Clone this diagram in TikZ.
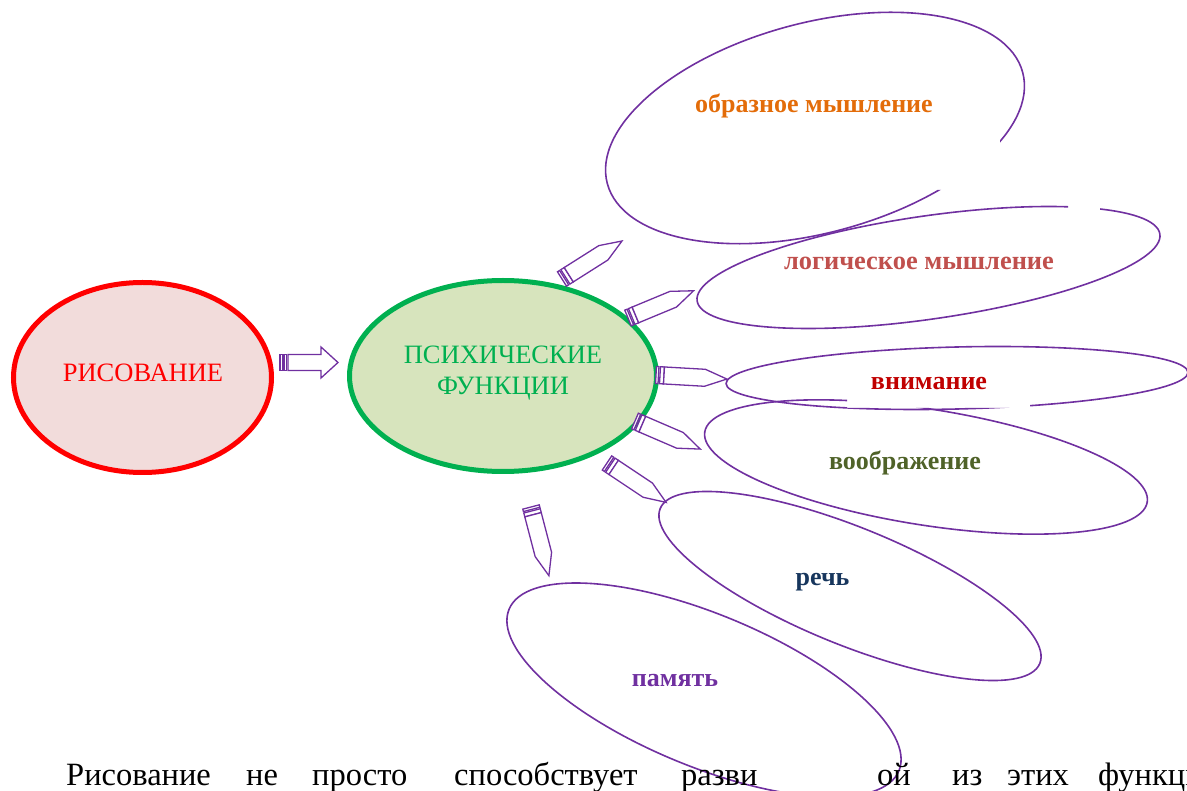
\documentclass[tikz,border=0pt]{standalone}
\usepackage{fontspec}
\setmainfont{Liberation Serif}
\usetikzlibrary{calc,shapes.geometric}
\definecolor{pur}{HTML}{7030A0}
\definecolor{risred}{HTML}{FF0000}
\definecolor{risfill}{HTML}{F2DCDB}
\definecolor{psygreen}{HTML}{00B050}
\definecolor{psyfill}{HTML}{D7E4BD}
\definecolor{corange}{HTML}{E36C09}
\definecolor{clogic}{HTML}{C0504D}
\definecolor{cattn}{HTML}{C00000}
\definecolor{cimag}{HTML}{4F6228}
\definecolor{cspeech}{HTML}{17365D}
\begin{document}
\begin{tikzpicture}[x=1pt,y=-1pt,
  bubble/.style={ellipse, draw=pur, line width=1.6pt, inner sep=0pt},
  bigoval/.style={ellipse, line width=5pt, inner sep=0pt},
  pen/.style={draw=pur, line width=1.3pt, fill=white, line join=miter},
  lbl/.style={font=\fontsize{26}{26}\selectfont\bfseries, anchor=base, inner sep=0pt},
  caps/.style={font=\fontsize{26.5}{31.5}\selectfont, inner sep=0pt, align=center},
  bodytext/.style={font=\fontsize{32.5}{33}\selectfont, anchor=base west, inner sep=0pt},
  pencil/.pic={
    \draw[pen] (0,-8.5) rectangle (2.5,8.5);
    \draw[pen] (4,-8.5) rectangle (8,8.5);
    \draw[pen] (8,-8.5) -- (49,-8.5) -- (71,0) -- (49,8.5) -- (8,8.5) -- cycle;
  },
  blockarrow/.pic={
    \draw[pen] (0,-8) rectangle (2.5,8);
    \draw[pen] (4,-8) rectangle (6.5,8);
    \draw[pen] (8,-8) -- (41,-8) -- (41,-15.5) -- (58,0) -- (41,15.5) -- (41,8) -- (8,8) -- cycle;
  }
]
\useasboundingbox (0,0) rectangle (1187,791);

% main ovals
\node[bigoval, draw=risred, fill=risfill, minimum width=258, minimum height=190] (ris) at (142.5,377.5) {};
\node[caps, text=risred, anchor=base] (ristext) at (143,381.5) {РИСОВАНИЕ};
\node[bigoval, draw=psygreen, fill=psyfill, minimum width=307, minimum height=191] (psy) at (503,376) {};
\node[caps, text=psygreen, anchor=base] (psytext) at (503,395) {ПСИХИЧЕСКИЕ\\ФУНКЦИИ};

% block arrow
\coordinate (ba1) at (280,362.5);
\coordinate (ba2) at (338,362.5);
\path (ba1) -- (ba2) pic[pos=0,sloped,allow upside down] {blockarrow};

% bubbles
\begin{scope}[even odd rule]
  \clip (0,0) rectangle (1187,791) (1068,195) rectangle (1100,222);
  \node[bubble, rotate=8.2, minimum width=467.6, minimum height=103.2] (e2) at (928.5,267.5) {};
\end{scope}
\begin{scope}[even odd rule]
  \clip (0,0) rectangle (1187,791) (683,72) rectangle (1000,190);
  \node[bubble, rotate=15, minimum width=430, minimum height=210] (e1) at (815,128) {};
\end{scope}
\begin{scope}[even odd rule]
  \clip (0,0) rectangle (1187,791) (847,356) rectangle (1030,408);
  \node[bubble, rotate=1.4, minimum width=462, minimum height=62] (e3) at (957,378) {};
  \node[bubble, rotate=-9, minimum width=448, minimum height=116] (e4) at (926,467) {};
\end{scope}
\node[bubble, rotate=-22.2, minimum width=410, minimum height=117] (e5) at (850,586) {};
\node[bubble, rotate=-22.5, minimum width=422, minimum height=152] (e6) at (704,690) {};

% labels
\node[lbl, text=corange] (t1) at (814,112.5) {образное мышление};
\node[lbl, text=clogic, font=\fontsize{26.4}{26}\selectfont\bfseries] (t2) at (919,270) {логическое мышление};
\node[lbl, text=cattn] (t3) at (929,390) {внимание};
\node[lbl, text=cimag] (t4) at (905,469.5) {воображение};
\node[lbl, text=cspeech] (t5) at (822.5,585) {речь};
\node[lbl, text=pur] (t6) at (675,686.5) {память};

% pencils
\coordinate (p1a) at (562,279); \coordinate (p1b) at (622,241);
\coordinate (p2a) at (628,318); \coordinate (p2b) at (693,291);
\coordinate (p3a) at (656,375); \coordinate (p3b) at (726,379);
\coordinate (p4a) at (635,421); \coordinate (p4b) at (700,449);
\coordinate (p5a) at (607,463); \coordinate (p5b) at (667,503);
\coordinate (p6a) at (531,507); \coordinate (p6b) at (549,576);
\foreach \i in {1,...,6}{
  \path (p\i a) -- (p\i b) pic[pos=0,sloped,allow upside down] {pencil};
}

% body text line
\node[bodytext] (w1) at (66,785) {Рисование};
\node[bodytext] (w2) at (246,785) {не};
\node[bodytext] (w3) at (312,785) {просто};
\node[bodytext] (w4) at (454,785) {способствует};
\node[bodytext] (w5) at (681,785) {разви};
\node[bodytext] (w6) at (877,785) {ой};
\node[bodytext] (w7) at (952,785) {из};
\node[bodytext] (w8) at (1007,785) {этих};
\node[bodytext] (w9) at (1098,785) {функци};
\end{tikzpicture}
\end{document}
